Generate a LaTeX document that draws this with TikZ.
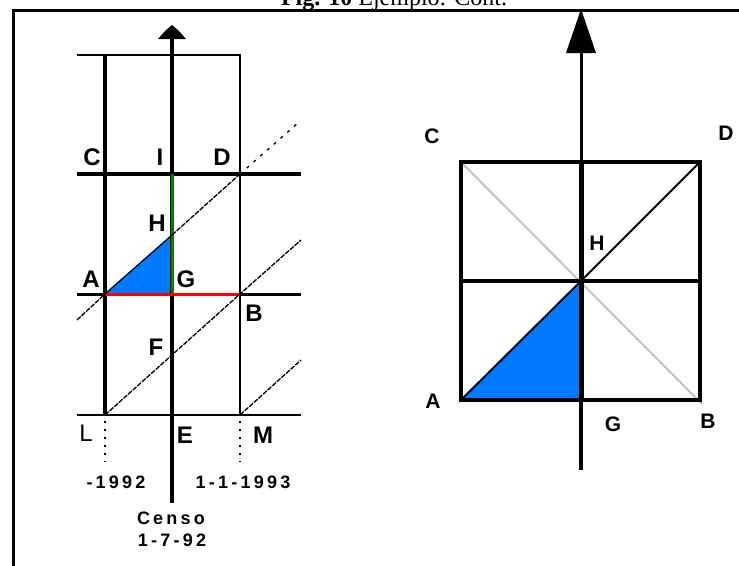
\documentclass[tikz,border=0pt]{standalone}
\usepackage{fontspec}
\setmainfont{Liberation Serif}
\newfontfamily\labfont{Liberation Sans}
\newfontfamily\widefont[LetterSpace=18]{Liberation Sans}
\definecolor{cblue}{RGB}{0,122,255}
\definecolor{cgreen}{RGB}{0,128,0}
\definecolor{cred}{RGB}{255,0,0}
\definecolor{cgray}{RGB}{195,195,195}
\begin{document}
\begin{tikzpicture}[x=1pt,y=-1pt,
  lablA/.style={font=\labfont\bfseries\fontsize{24}{24}\selectfont, inner sep=0pt},
  lablB/.style={font=\labfont\bfseries\fontsize{21}{21}\selectfont, inner sep=0pt},
  datelab/.style={font=\widefont\bfseries\fontsize{18}{18}\selectfont, inner sep=0pt},
  jag/.style={line width=1.3pt, dash pattern=on 5pt off 1.2pt},
  sparse/.style={line width=1.3pt, dash pattern=on 3pt off 6pt},
  thickline/.style={line width=4pt},
  midline/.style={line width=3pt},
  thinline/.style={line width=2pt}]
\useasboundingbox (0,0) rectangle (739,565);
\fill[white] (0,0) rectangle (739,565);
% title
\node[anchor=base, inner sep=0pt, font=\fontsize{24}{24}\selectfont] (title) at (394,5) {\textbf{Fig. 10} Ejemplo: Cont.};
% frame
\coordinate (f1) at (739,10); \coordinate (f2) at (13,10); \coordinate (f3) at (13,566);
\draw[line width=3pt] (f1) -- (f2) -- (f3);

% ---------- left diagram ----------
\coordinate (Ltop) at (105,55); \coordinate (Rtop) at (240,55);
\coordinate (LLtop) at (77,55);
\coordinate (Lb) at (105,415); \coordinate (Rb) at (240,415);
\coordinate (Atop) at (172,39); \coordinate (Abot) at (172,503);
\coordinate (C0) at (77,174); \coordinate (C1) at (301,174);
\coordinate (A0) at (77,294); \coordinate (A1) at (301,294);
\coordinate (L0) at (77,415); \coordinate (L1) at (301,415);
\coordinate (pA) at (105,294); \coordinate (pG) at (172,294); \coordinate (pB) at (240,294);
\coordinate (pH) at (172,235); \coordinate (pI) at (172,174); \coordinate (pD) at (240,174);
\coordinate (pL) at (105,415); \coordinate (pM) at (240,415);

\fill[cblue] (pA) -- (pH) -- (pG) -- cycle;
\draw[thinline] (LLtop) -- (Rtop) -- (Rb);
\draw[thickline] (Ltop) -- (Lb);
\draw[thickline] (Atop) -- (Abot);
\draw[thickline] (C0) -- (C1);
\draw[midline] (A0) -- (A1);
\draw[thinline] (L0) -- (L1);
\fill (172,25) -- (179,31) -- (186,39) -- (158,39) -- (165,31) -- cycle;
\draw[line width=3pt, cgreen] (pG) -- (pI);
\draw[line width=3pt, cred] (pA) -- (pB);

% diagonals
\coordinate (d1a) at (77,320); \coordinate (d1b) at (298,123);
\coordinate (d2b) at (301,240);
\coordinate (d3b) at (301,360);
\draw[jag] (d1a) -- (pA);
\draw[line width=1.3pt] (pA) -- (pH);
\draw[jag] (pH) -- (pD);
\draw[sparse] (pD) -- (d1b);
\draw[jag] (pL) -- (pB) -- (d2b);
\draw[jag] (pM) -- (d3b);
% dotted drops
\coordinate (dl0) at (105,421); \coordinate (dl) at (105,462);
\coordinate (dm0) at (240,421); \coordinate (dm) at (240,462);
\draw[line width=2pt, dash pattern=on 2pt off 6pt] (dl0) -- (dl);
\draw[line width=2pt, dash pattern=on 2pt off 6pt] (dm0) -- (dm);

% labels left
\node[lablA] (lC) at (92,157) {C};
\node[lablA] (lI) at (160,157) {I};
\node[lablA] (lD) at (222,157) {D};
\node[lablA] (lH) at (157,223) {H};
\node[lablA] (lA) at (91,279) {A};
\node[lablA] (lG) at (186,279) {G};
\node[lablA] (lB) at (254,313) {B};
\node[lablA] (lF) at (156,347) {F};
\node[font=\labfont\fontsize{24}{24}\selectfont, inner sep=0pt] (lL) at (86,433) {L};
\node[lablA] (lE) at (185,435) {E};
\node[lablA] (lM) at (263,435) {M};
\node[datelab] (y92) at (116,482) {-1992};
\node[datelab] (y93) at (243,482) {1-1-1993};
\node[datelab] (cen) at (171,518) {Censo};
\node[datelab] (cdt) at (172,540) {1-7-92};

% ---------- right diagram ----------
\coordinate (sC) at (461,162); \coordinate (sD) at (700,162);
\coordinate (sA) at (461,400); \coordinate (sB) at (700,400);
\coordinate (sH) at (581,281); \coordinate (sG) at (581,400);
\coordinate (mL) at (461,281); \coordinate (mR) at (700,281);
\coordinate (axT) at (581,53); \coordinate (axB) at (581,470);
\coordinate (gB) at (702,404);
\fill[cblue] (sA) -- (sH) -- (sG) -- cycle;
\draw[line width=2pt, cgray] (sC) -- (gB);
\draw[line width=2pt] (sA) -- (sH) -- (sD);
\draw[line width=4pt] (sC) rectangle (sB);
\draw[line width=4pt] (mL) -- (mR);
\draw[line width=3pt] (axT) -- (sC -| axT);
\draw[line width=5pt] (sC -| axT) -- (sG);
\draw[line width=4pt] (sG) -- (axB);
\fill (581,9) -- (596,53) -- (566,53) -- cycle;

\node[lablB] (rC) at (432,136) {C};
\node[lablB] (rD) at (726,133) {D};
\node[lablB] (rH) at (597,243) {H};
\node[lablB] (rA) at (433,401) {A};
\node[lablB] (rG) at (613,424) {G};
\node[lablB] (rB) at (708,421) {B};
\end{tikzpicture}
\end{document}
